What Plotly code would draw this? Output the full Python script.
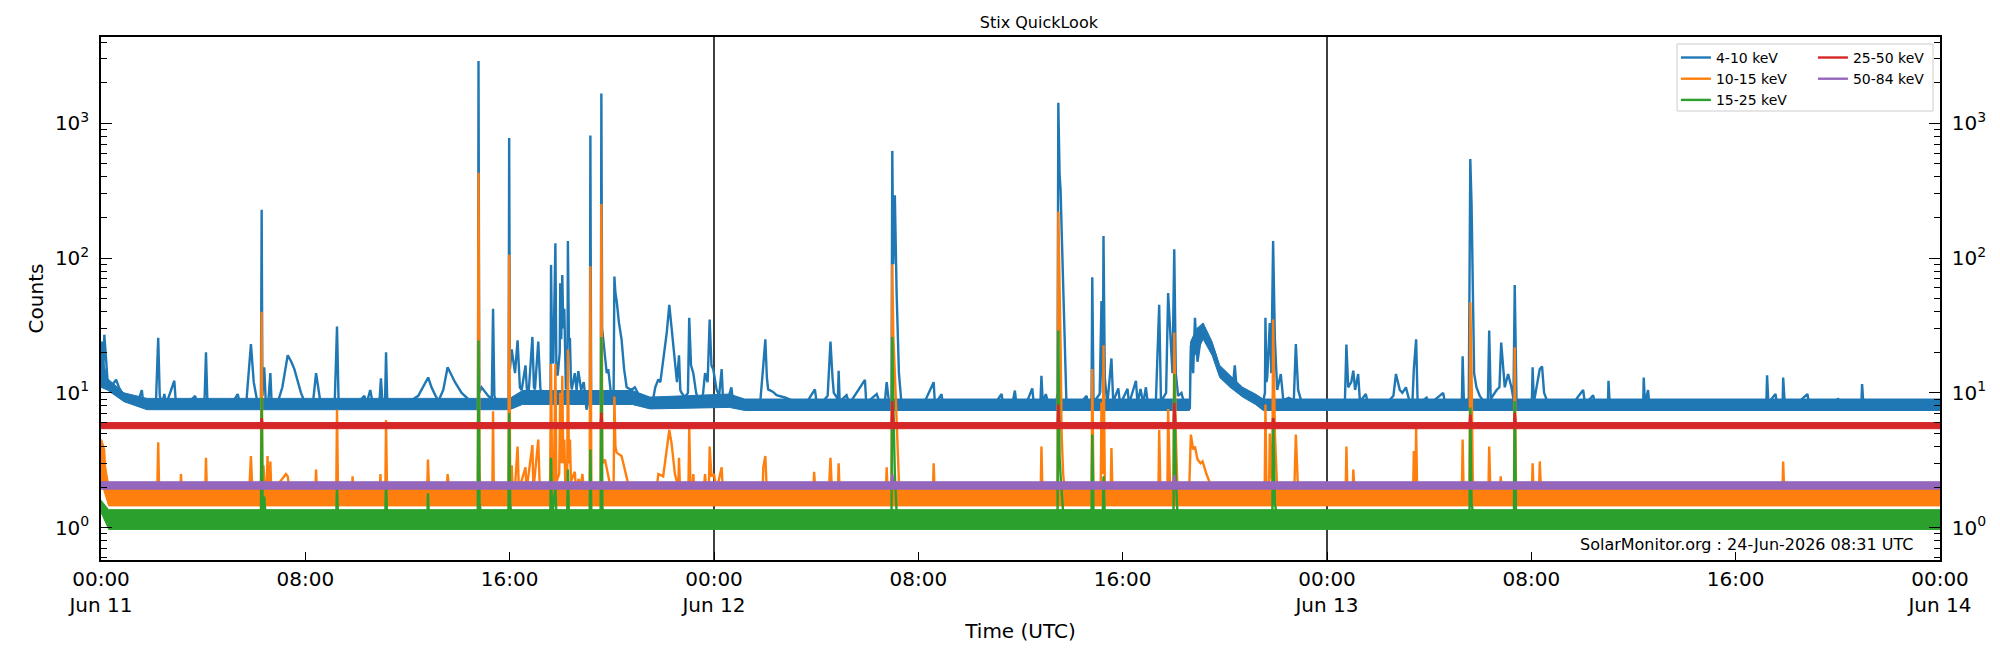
import pandas as pd
import plotly.graph_objects as go

BASE = pd.Timestamp("2026-06-11 00:00")

# ---------------- data (hours since 2026-06-11 00:00 UTC, counts) ----------------
blue_t = [0.00,0.05,0.09,0.13,0.18,0.26,0.45,0.59,0.70,0.85,1.00,1.17,1.45,1.60,1.65,2.15,2.24,2.30,2.40,2.48,
          2.55,2.87,2.93,3.30,3.69,3.75,4.05,4.11,4.17,4.60,4.90,5.10,5.35,5.45,5.70,5.87,5.98,6.10,6.26,6.29,
          6.32,6.39,6.45,6.55,6.63,6.68,6.90,7.10,7.31,7.45,7.57,7.70,7.83,8.00,8.30,8.42,8.50,8.60,9.15,9.24,
          9.30,9.60,10.00,10.31,10.40,10.54,10.65,10.90,10.96,11.02,11.12,11.16,11.21,11.60,12.00,12.42,12.81,12.94,13.10,13.21,
          13.40,13.57,13.86,14.12,14.38,14.58,14.76,14.78,14.81,14.90,15.16,15.30,15.35,15.40,15.49,15.82,15.96,15.98,16.01,16.08,
          16.21,16.31,16.40,16.47,16.62,16.68,16.73,16.89,16.95,16.99,17.12,17.20,17.25,17.45,17.60,17.62,17.66,17.71,17.79,17.83,
          17.88,17.96,17.98,18.02,18.06,18.10,18.14,18.18,18.20,18.26,18.28,18.32,18.36,18.40,18.43,18.55,18.62,18.69,18.80,18.90,
          19.01,19.10,19.14,19.16,19.19,19.27,19.40,19.57,19.59,19.62,19.73,19.80,19.86,19.94,19.99,20.07,20.10,20.14,20.19,20.28,
          20.38,20.48,20.58,20.77,20.90,21.04,21.20,21.43,21.60,21.70,21.82,21.90,22.01,22.15,22.25,22.34,22.47,22.55,22.63,22.68,
          22.73,22.86,22.98,23.03,23.10,23.19,23.30,23.45,23.55,23.65,23.75,23.83,23.90,23.97,24.10,24.20,24.30,24.35,24.55,24.68,
          24.75,25.00,25.30,25.80,25.93,26.01,26.07,26.12,26.30,26.45,26.80,27.23,27.60,27.95,28.02,28.28,28.45,28.56,28.64,28.69,
          28.85,28.88,28.92,29.19,29.30,29.91,29.96,30.37,30.50,30.70,30.76,30.85,30.95,30.98,31.02,31.08,31.15,31.24,31.34,31.80,
          32.20,32.60,32.65,32.91,32.96,33.50,34.00,34.50,35.00,35.26,35.32,35.70,35.78,35.84,36.20,36.46,36.52,36.78,36.82,36.87,
          36.99,37.10,37.40,37.45,37.48,37.53,37.57,37.61,37.67,37.74,37.80,38.20,38.59,38.65,38.78,38.81,38.86,39.10,39.17,39.22,
          39.25,39.30,39.40,39.56,39.63,39.83,39.90,40.19,40.25,40.52,40.58,40.70,40.80,40.91,40.98,41.30,41.43,41.50,41.70,41.78,
          41.85,41.95,42.02,42.08,42.17,42.30,42.40,42.63,42.67,42.76,42.83,42.93,43.13,43.28,43.48,43.61,43.74,43.87,44.13,44.33,
          44.39,44.46,44.65,44.92,45.18,45.50,45.57,45.59,45.63,45.66,45.76,45.82,45.89,45.96,46.05,46.19,46.29,46.50,46.70,46.78,
          46.87,47.00,47.40,47.92,48.30,48.70,48.76,48.83,48.95,49.03,49.10,49.22,49.29,49.52,49.60,50.00,50.30,50.60,50.70,50.85,
          50.95,51.09,51.24,51.35,51.40,51.49,51.55,51.90,52.00,52.55,52.62,53.00,53.28,53.31,53.36,53.55,53.61,53.66,53.71,53.76,
          53.85,53.98,54.11,54.30,54.35,54.41,54.64,54.75,54.82,54.90,54.96,55.09,55.22,55.30,55.35,55.42,55.68,56.02,56.05,56.10,
          56.33,56.42,56.50,56.59,56.72,57.20,57.60,58.03,58.10,58.42,58.50,59.00,59.02,59.07,59.50,60.00,60.38,60.40,60.45,60.57,
          60.62,61.00,61.50,62.00,62.50,63.00,63.50,64.00,64.50,65.20,65.23,65.28,65.56,65.62,65.84,65.86,65.92,66.30,66.81,66.88,
          67.50,68.01,68.10,68.92,68.95,69.00,69.50,70.00,70.50,71.00,71.50,72.00]
blue_v = [16,24,14,27,20,12,11.5,12.5,11,9.8,9.2,8.8,8.6,10.5,8.5,8.3,25.6,9.5,8.2,9.8,
          8.2,12.3,8.5,8.0,9.5,8.2,8.3,20,8.0,8.0,8.3,8.1,9.8,8.3,9.0,23,12,9.0,8.5,228,
          9.5,15.5,8.6,8.5,14,8.5,8.3,11,19,17,15,12,10,8.3,8.5,14,11,8.3,8.4,31,
          9,8.3,8.2,9.5,8.3,10.5,8.2,8.5,12.8,8.5,8.4,20,8.3,8.2,8.4,9.5,13,11,9.5,8.7,
          10.5,15.5,12,10,9,8.2,8.4,2900,10,11,9.5,9,42,9.5,8.6,8.5,8.8,776,15,21,
          14,24.5,11,10.5,16,10,9.2,26,11,10.6,24,11,9.3,8.7,9,89,20,16.5,129,14,
          13.5,20,65,25,75,30,42,14,10.6,12,134,25,25,12,10.6,14,10.5,14.5,10.5,12,
          7.5,9,10,810,10,9.5,9.5,10,1660,30,18,14,15,10,9,10,73,55,48,33,
          25,15,11,10.5,11,9.8,9.6,8.4,8.6,11,12.6,12,17,28,45,30,16,12,19,10.5,
          10,9.3,10,36,16,14,10,8,9,14,12,35,16,15,10.6,9.5,15,9.2,9.0,11,
          8.5,8.1,8.0,8.1,16,25,13,10.6,10.2,9.6,9.2,8.5,8.3,10.6,8.4,8.7,9.5,24,13,10,
          9,14.6,8.6,9.6,8.3,12.5,8.4,9.8,8.3,9,12,8.5,9,624,90,292,55,14,8.3,8.0,
          8.2,12,8.2,9.8,8.1,8.1,8.2,8.0,8.3,9.8,8.2,8.6,10.4,8.2,8.1,10.8,8.3,8.5,13.4,8.5,
          9.8,8.2,8.3,10,1420,420,318,164,63,14,8.3,7.8,9.5,8.0,8.5,72,8.5,9.8,48,10,
          146,13,8.2,18,8.6,10.8,8.2,10.7,8.3,12.3,8.4,10.7,8.3,11,8.5,8.6,45,8.6,10,55,
          30,14,116,14,9.5,10,8.5,7.6,22.5,14,36,17,32,24,22.5,19.5,15,13,12.6,12,
          16,11,10,9.4,9,8.6,10,36,12,13,33,14,134,25,10.5,13.8,8.8,9.2,8.8,23,
          10.5,8.6,8.2,8.3,8.2,8.5,22.8,11,12,14.6,10.5,13.8,8.6,9.8,8.3,7.9,8.2,9.5,13.8,10.5,
          10,11,8.5,9,15,25,8.2,9.2,8.2,10,8.3,8.4,8.5,18.7,8.6,9,543,250,63,14,
          11,9.5,8.8,8.8,29,9,10.5,11,23.6,14,11,13.8,11,9,63,8.7,8.6,8.5,15.5,8.5,
          15,15.7,10,9,8.2,8.0,8.2,10.5,8.2,9.6,8.1,8.3,12.3,8.2,8.0,8.2,8.2,13,8.3,10.5,
          8.1,8.3,8.0,8.2,8.1,8.0,8.3,8.1,8.0,8.3,13.5,8.4,9.8,8.2,8.3,13,8.4,8.0,9.8,8.2,
          8.1,9,8.1,8.2,11.6,8.2,8.0,8.1,8.2,8.3,8.1,8.0]

orange_t = [0.00,0.08,0.12,0.17,0.26,2.20,2.24,2.28,3.10,3.13,3.17,4.08,4.11,4.15,5.80,5.87,5.93,6.26,6.29,6.32,
            6.36,6.42,6.48,6.52,6.56,6.60,6.63,6.67,7.24,7.31,7.40,8.39,8.42,8.46,9.21,9.24,9.28,9.82,9.85,9.88,
            10.91,10.94,10.97,11.13,11.16,11.20,12.77,12.80,12.85,13.53,13.57,13.65,14.75,14.78,14.82,14.86,15.32,15.35,15.38,15.95,
            15.98,16.02,16.08,16.12,16.20,16.31,16.36,16.62,16.66,16.89,16.93,17.12,17.18,17.58,17.62,17.66,17.73,17.79,17.83,17.94,
            17.98,18.02,18.06,18.10,18.14,18.18,18.25,18.28,18.32,18.36,18.40,18.55,18.60,18.70,18.75,18.85,18.90,19.13,19.16,19.20,
            19.56,19.59,19.63,19.73,19.86,19.95,20.07,20.10,20.14,20.19,20.38,20.58,20.70,21.75,21.82,22.01,22.15,22.25,22.34,22.47,
            22.60,22.63,22.67,23.00,23.03,23.08,23.15,23.19,23.23,23.60,23.65,23.70,23.80,23.83,23.90,24.00,24.10,24.30,24.35,25.90,
            25.93,26.01,26.07,27.89,27.92,27.97,28.50,28.56,28.62,28.85,28.88,28.92,30.73,30.76,30.80,30.95,30.98,31.02,31.08,31.15,
            31.24,31.30,32.57,32.60,32.64,36.79,36.82,36.86,37.45,37.48,37.53,37.57,37.61,37.67,37.74,38.78,38.81,38.86,39.14,39.17,
            39.22,39.25,39.30,39.53,39.56,39.60,41.40,41.43,41.48,41.75,41.78,41.85,41.99,42.02,42.08,42.15,42.60,42.67,42.76,42.83,
            42.93,43.05,43.13,43.28,43.48,43.60,45.56,45.59,45.63,45.73,45.76,45.80,45.86,45.89,45.96,46.05,46.72,46.78,46.87,48.73,
            48.76,48.80,49.00,49.03,49.08,51.37,51.40,51.46,51.49,51.53,53.28,53.31,53.35,53.58,53.61,53.66,53.71,53.80,54.32,54.35,
            54.40,54.77,54.80,54.85,55.32,55.35,55.40,56.02,56.05,56.09,56.30,56.33,56.38,65.83,65.86,65.90,72.00]
orange_v = [4.5,4.0,3.8,2.5,1.8,1.7,4.3,1.7,1.7,2.5,1.7,1.7,3.3,1.7,1.8,3.4,1.8,1.8,40,2,
            2.9,1.9,1.8,3.4,1.8,1.8,3.1,1.8,2.5,2.4,1.8,1.8,2.7,1.8,1.8,7.5,1.8,1.8,2.4,1.8,
            1.8,2.5,1.8,1.8,6.3,1.8,1.8,3.2,1.8,1.8,2.5,1.8,1.8,430,2.5,1.8,1.8,7.3,1.8,1.8,
            106,1.9,2.9,1.9,1.9,4.0,1.9,2.8,1.9,4.1,1.9,4.5,1.9,1.9,16.4,2.5,2.0,16.4,2.2,2.5,
            10,3,13.4,3,4.5,2.0,2.0,21,3,4.5,2.2,2.6,1.9,2.3,1.9,2.5,1.9,1.9,87,1.9,
            1.9,252,3,3.2,2.4,2.0,2.0,9.4,4,3.6,3.4,2.4,1.9,1.9,2.5,2.4,4.0,5.3,4.2,2.5,
            2.0,3.3,1.9,2.0,5.5,2.0,1.9,2.5,1.9,1.9,2.5,1.9,1.9,4.0,2.4,2.5,1.9,2.8,1.8,1.8,
            2.8,3.4,1.8,1.8,2.6,1.8,1.9,3.3,1.8,1.8,3.0,1.8,1.8,2.8,1.8,1.8,90,27,14,6,
            2.2,1.8,1.8,3.0,1.8,1.8,4.0,1.8,1.8,221,33,22,5,2.5,1.8,1.8,15,1.8,1.8,8.5,
            2.5,22.5,2.2,1.8,3.9,1.8,1.8,5.3,1.8,1.8,7.6,2.2,1.9,28,5,1.8,1.8,4.9,3.8,4.0,
            3.2,3.0,3.1,2.5,2.0,1.8,1.8,8.2,1.9,1.9,5.0,2.5,2.2,35,5,1.9,1.9,4.9,1.8,1.8,
            4.0,1.8,1.8,2.7,1.8,1.8,3.7,1.8,5.5,1.8,1.8,4.5,1.8,1.8,47,14,2.0,1.8,1.8,4.0,
            1.8,1.8,2.4,1.8,1.8,21.8,1.8,1.8,3.0,1.8,1.8,3.1,1.8,1.8,3.1,1.8,1.8]

green_t = [0.00,0.10,0.30,6.26,6.29,6.33,6.39,6.45,9.21,9.24,9.28,11.13,11.16,11.20,12.78,12.80,12.84,14.75,14.78,14.82,
           14.90,15.95,15.98,16.02,16.08,17.59,17.62,17.66,17.79,17.83,18.25,18.28,18.32,19.13,19.16,19.20,19.56,19.59,19.63,19.73,
           30.95,30.98,31.02,31.08,31.15,31.25,37.45,37.48,37.53,37.57,37.67,37.74,38.78,38.81,38.86,39.22,39.25,39.30,41.99,42.02,
           42.08,42.15,45.86,45.89,45.96,46.05,53.58,53.61,53.66,53.75,55.32,55.35,55.40,72.00]
green_v = [1.55,1.4,1.2,1.2,9.2,1.3,1.7,1.2,1.2,2.0,1.2,1.2,2.2,1.2,1.2,1.8,1.2,1.2,24.5,1.5,
           1.2,1.2,7.1,1.5,1.2,1.2,3.3,1.2,2.0,1.2,1.2,2.7,1.2,1.2,3.8,1.2,1.2,26,1.4,1.2,
           1.2,26,8,2.5,1.3,1.2,1.2,29,3.4,2.4,1.3,1.2,1.2,4.9,1.2,1.2,2.4,1.2,1.2,13.8,
           2.4,1.2,1.2,6.5,1.5,1.2,1.2,7.8,1.5,1.2,1.2,8.7,1.2,1.2]

red_t = [0.00,6.26,6.29,6.33,19.56,19.59,19.63,30.95,30.98,31.03,37.45,37.48,37.53,41.99,42.02,42.07,45.86,45.89,45.94,
         53.58,53.61,53.66,55.32,55.35,55.40,72.00]
red_v = [5.7,5.7,6.5,5.7,5.7,7.1,5.7,5.7,8.7,5.7,5.7,8.2,5.7,5.7,8.4,5.7,5.7,6.5,5.7,
         5.7,6.9,5.7,5.7,7.1,5.7,5.7]

purple_t = [0.00,30.95,30.98,31.03,41.99,42.02,42.07,72.00]
purple_v = [2.05,2.05,2.5,2.05,2.05,2.45,2.05,2.05]

# noise envelopes (lower / upper edge of the noisy band)
blue_env_t = [0.0,0.25,0.9,1.8,16.0,16.5,20.8,21.5,24.6,25.2,42.62,42.66,42.9,43.15,43.5,43.8,44.2,44.7,45.2,45.5,72.0]
blue_env_lo = [11.0,10.5,8.6,7.5,7.5,8.2,8.2,7.6,7.8,7.4,7.4,17,20,25,19,13,11,9.3,8.2,7.4,7.4]
blue_env_hi = [20.0,12.8,10.0,9.1,9.1,10.4,10.4,9.3,9.8,9.0,9.0,24,30,33,24,16,13.5,11,9.8,9.0,9.0]
orange_env_t = [0.0,0.3,72.0]
orange_env_lo = [2.2,1.45,1.45]
orange_env_hi = [4.4,2.1,2.1]
green_env_t = [0.0,0.3,72.0]
green_env_lo = [1.3,0.97,0.97]
green_env_hi = [1.6,1.36,1.36]
red_env_t = [0.0,72.0]
red_env_lo = [5.42,5.42]
red_env_hi = [6.02,6.02]
purple_env_t = [0.0,72.0]
purple_env_lo = [1.93,1.93]
purple_env_hi = [2.19,2.19]

series_names = ["4-10 keV", "10-15 keV", "15-25 keV", "25-50 keV", "50-84 keV"]
tick_hours = [0, 8, 16, 24, 32, 40, 48, 56, 64, 72]
tick_text = ["00:00<br>Jun 11", "08:00", "16:00", "00:00<br>Jun 12", "08:00", "16:00",
             "00:00<br>Jun 13", "08:00", "16:00", "00:00<br>Jun 14"]
day_lines_hours = [24, 48]
y_tickvals = [1, 10, 100, 1000]
y_ticktext = ["10<sup>0</sup>", "10<sup>1</sup>", "10<sup>2</sup>", "10<sup>3</sup>"]
watermark = "SolarMonitor.org : 24-Jun-2026 08:31 UTC"

# ---------------- figure ----------------
def T(hours):
    return BASE + pd.to_timedelta(pd.Series(hours, dtype=float), unit="h")

colors = ["#1f77b4", "#ff7f0e", "#2ca02c", "#d62728", "#9467bd"]
FONT = "DejaVu Sans"

fig = go.Figure()
groups = [
    (blue_t, blue_v, blue_env_t, blue_env_lo, blue_env_hi, "legend"),
    (orange_t, orange_v, orange_env_t, orange_env_lo, orange_env_hi, "legend"),
    (green_t, green_v, green_env_t, green_env_lo, green_env_hi, "legend"),
    (red_t, red_v, red_env_t, red_env_lo, red_env_hi, "legend2"),
    (purple_t, purple_v, purple_env_t, purple_env_lo, purple_env_hi, "legend2"),
]
for (t, v, et, elo, ehi, lg), name, c in zip(groups, series_names, colors):
    fig.add_trace(go.Scatter(x=T(et), y=elo, mode="lines", line=dict(color=c, width=1),
                             showlegend=False, hoverinfo="skip"))
    fig.add_trace(go.Scatter(x=T(et), y=ehi, mode="lines", line=dict(color=c, width=1),
                             fill="tonexty", fillcolor=c, showlegend=False, hoverinfo="skip"))
    fig.add_trace(go.Scatter(x=T(t), y=v, mode="lines", name=name, legend=lg,
                             line=dict(color=c, width=2.4)))

# invisible anchor so the right-hand mirrored axis is drawn
fig.add_trace(go.Scatter(x=T([0]), y=[1], yaxis="y2", mode="markers", opacity=0,
                         showlegend=False, hoverinfo="skip"))

x_range = [BASE, BASE + pd.Timedelta(hours=72)]
y_log_range = [-0.24, 3.64]

for h in day_lines_hours:
    fig.add_shape(type="line", xref="x", yref="paper", x0=BASE + pd.Timedelta(hours=h),
                  x1=BASE + pd.Timedelta(hours=h), y0=0, y1=1,
                  line=dict(color="black", width=1.5), layer="below")

# legend frame
fig.add_shape(type="rect", xref="paper", yref="paper", x0=0.8570, x1=0.9962, y0=0.8585, y1=0.9866,
              line=dict(color="#cccccc", width=1), fillcolor="rgba(255,255,255,0.8)", layer="above")

axis_common = dict(showline=True, linecolor="black", linewidth=1.5, showgrid=False, zeroline=False,
                   tickfont=dict(family=FONT, size=20, color="black"))

fig.update_layout(
    width=2000, height=650,
    margin=dict(l=101, r=60, t=37, b=90),
    paper_bgcolor="white", plot_bgcolor="white",
    font=dict(family=FONT, color="black"),
    title=dict(text="Stix QuickLook", x=0.51, xref="paper", xanchor="center",
               y=1 - 22 / 650, yref="container", yanchor="middle",
               font=dict(family=FONT, size=16, color="black")),
    xaxis=dict(type="date", range=x_range, tickvals=T(tick_hours), ticktext=tick_text,
               ticks="inside", ticklen=8, tickwidth=1.2, tickcolor="black", mirror=True,
               title=dict(text="Time (UTC)", font=dict(family=FONT, size=20), standoff=8),
               **axis_common),
    yaxis=dict(type="log", range=y_log_range, tickvals=y_tickvals, ticktext=y_ticktext,
               ticks="inside", ticklen=11, tickwidth=1.2, tickcolor="black", mirror=True,
               minor=dict(ticks="inside", ticklen=6, tickwidth=1, tickcolor="black", dtick="D1", showgrid=False),
               ticklabelstandoff=6,
               title=dict(text="Counts", font=dict(family=FONT, size=20), standoff=6),
               **axis_common),
    yaxis2=dict(type="log", range=y_log_range, overlaying="y", side="right", tickvals=y_tickvals,
                ticktext=y_ticktext, ticks="inside", ticklen=11, tickwidth=1.2, tickcolor="black",
                minor=dict(ticks="inside", ticklen=6, tickwidth=1, tickcolor="black", dtick="D1", showgrid=False),
                ticklabelstandoff=6, **axis_common),
    legend=dict(x=0.8564, y=0.9906, xanchor="left", yanchor="top", bgcolor="rgba(0,0,0,0)",
                borderwidth=0, font=dict(family=FONT, size=14), itemwidth=30, tracegroupgap=0,
                traceorder="normal"),
    legend2=dict(x=0.9309, y=0.9906, xanchor="left", yanchor="top", bgcolor="rgba(0,0,0,0)",
                 borderwidth=0, font=dict(family=FONT, size=14), itemwidth=30, tracegroupgap=0,
                 traceorder="normal"),
    showlegend=True,
)

fig.add_annotation(text=watermark, xref="paper", yref="paper", x=0.987, y=0.0287,
                   xanchor="right", yanchor="middle", showarrow=False,
                   font=dict(family=FONT, size=16, color="black"))

fig.write_html("out.html")
